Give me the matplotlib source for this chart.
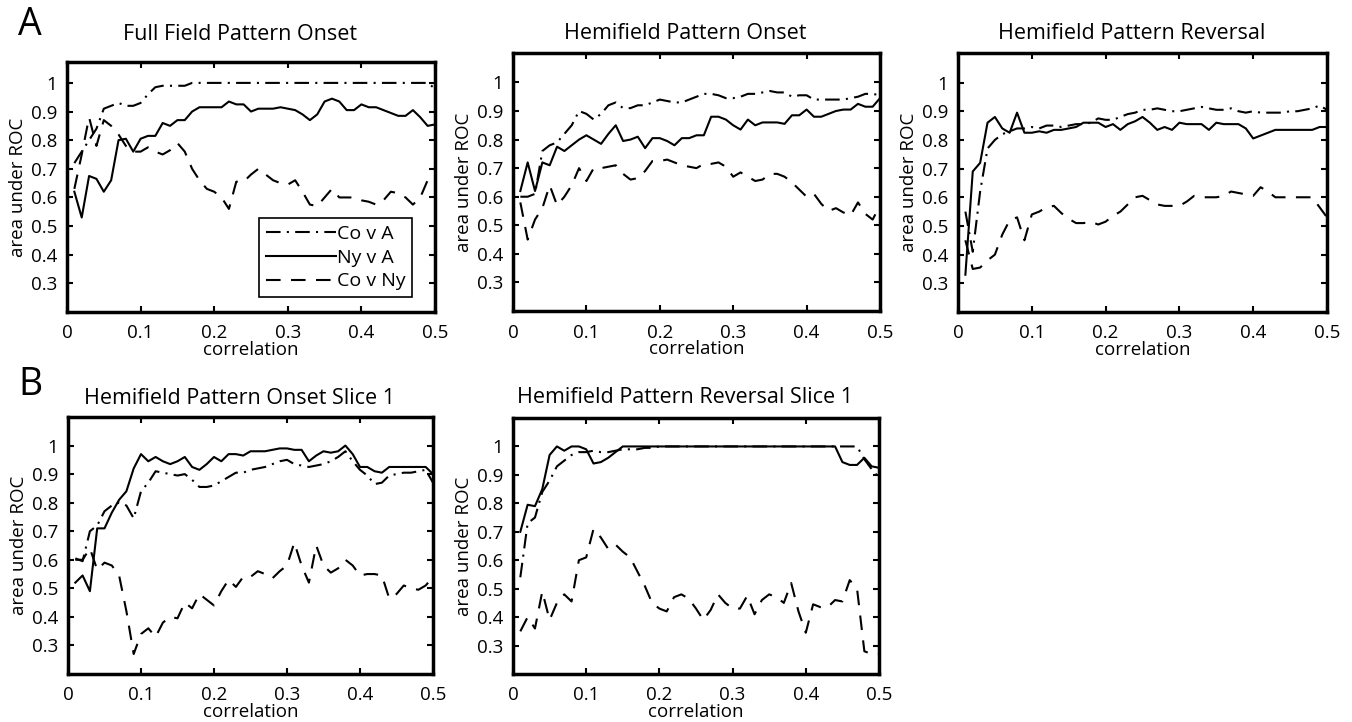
import matplotlib.pyplot as plt
import numpy as np

plt.rcParams['font.family'] = ['Open Sans', 'DejaVu Sans']

# correlation thresholds 0.01 .. 0.50
corr = np.round(np.arange(1, 51) * 0.01, 2)

# Full Field Pattern Onset
ff_onset_cova = [0.72, 0.76, 0.80, 0.84, 0.91, 0.92, 0.93, 0.92, 0.92, 0.93,
                 0.96, 0.985, 0.99, 0.99, 0.99, 0.99, 1.0, 1.0, 1.0, 1.0,
                 1.0, 1.0, 1.0, 1.0, 1.0, 1.0, 1.0, 1.0, 1.0, 1.0,
                 1.0, 1.0, 1.0, 1.0, 1.0, 1.0, 1.0, 1.0, 1.0, 1.0,
                 1.0, 1.0, 1.0, 1.0, 1.0, 1.0, 1.0, 1.0, 1.0, 0.98]
ff_onset_nyva = [0.62, 0.53, 0.675, 0.665, 0.62, 0.66, 0.80, 0.805, 0.76, 0.805,
                 0.815, 0.815, 0.86, 0.85, 0.87, 0.87, 0.90, 0.915, 0.915, 0.915,
                 0.915, 0.935, 0.925, 0.925, 0.90, 0.91, 0.91, 0.91, 0.915, 0.91,
                 0.905, 0.89, 0.87, 0.89, 0.935, 0.945, 0.935, 0.905, 0.905, 0.925,
                 0.915, 0.915, 0.905, 0.895, 0.885, 0.885, 0.905, 0.88, 0.85, 0.855]
ff_onset_covny = [0.63, 0.75, 0.88, 0.78, 0.87, 0.85, 0.82, 0.78, 0.76, 0.76,
                  0.775, 0.76, 0.75, 0.765, 0.79, 0.76, 0.70, 0.66, 0.63, 0.62,
                  0.60, 0.56, 0.655, 0.655, 0.68, 0.70, 0.68, 0.66, 0.65, 0.645,
                  0.66, 0.62, 0.575, 0.57, 0.60, 0.63, 0.60, 0.60, 0.60, 0.59,
                  0.585, 0.575, 0.59, 0.62, 0.615, 0.60, 0.575, 0.60, 0.66, 0.67]

# Hemifield Pattern Onset
hf_onset_cova = [0.60, 0.60, 0.61, 0.76, 0.78, 0.79, 0.82, 0.85, 0.90, 0.89,
                 0.87, 0.89, 0.92, 0.93, 0.91, 0.91, 0.92, 0.92, 0.93, 0.94,
                 0.935, 0.93, 0.93, 0.94, 0.95, 0.96, 0.96, 0.955, 0.945, 0.945,
                 0.95, 0.96, 0.96, 0.965, 0.97, 0.965, 0.965, 0.95, 0.955, 0.955,
                 0.94, 0.94, 0.94, 0.94, 0.94, 0.945, 0.95, 0.96, 0.96, 0.955]
hf_onset_nyva = [0.62, 0.72, 0.62, 0.72, 0.71, 0.775, 0.76, 0.78, 0.80, 0.815,
                 0.80, 0.785, 0.82, 0.85, 0.795, 0.80, 0.81, 0.77, 0.805, 0.805,
                 0.795, 0.78, 0.805, 0.805, 0.815, 0.815, 0.88, 0.88, 0.87, 0.85,
                 0.835, 0.87, 0.85, 0.86, 0.86, 0.86, 0.855, 0.885, 0.885, 0.905,
                 0.88, 0.88, 0.89, 0.90, 0.905, 0.905, 0.925, 0.915, 0.915, 0.945]
hf_onset_covny = [0.58, 0.45, 0.52, 0.56, 0.64, 0.57, 0.60, 0.64, 0.70, 0.655,
                  0.70, 0.70, 0.705, 0.71, 0.68, 0.66, 0.665, 0.69, 0.725, 0.725,
                  0.73, 0.72, 0.71, 0.705, 0.70, 0.715, 0.715, 0.72, 0.705, 0.67,
                  0.685, 0.67, 0.655, 0.66, 0.68, 0.68, 0.67, 0.65, 0.625, 0.60,
                  0.61, 0.575, 0.55, 0.56, 0.545, 0.535, 0.58, 0.54, 0.52, 0.57]

# Hemifield Pattern Reversal
hf_rev_cova = [0.55, 0.41, 0.62, 0.77, 0.80, 0.82, 0.83, 0.84, 0.84, 0.845,
               0.84, 0.85, 0.85, 0.845, 0.85, 0.855, 0.855, 0.86, 0.875, 0.87,
               0.87, 0.88, 0.89, 0.895, 0.905, 0.905, 0.91, 0.905, 0.90, 0.90,
               0.905, 0.91, 0.915, 0.91, 0.905, 0.905, 0.91, 0.90, 0.895, 0.90,
               0.895, 0.895, 0.895, 0.895, 0.90, 0.90, 0.905, 0.91, 0.92, 0.905]
hf_rev_nyva = [0.33, 0.69, 0.72, 0.86, 0.88, 0.84, 0.825, 0.895, 0.825, 0.825,
               0.83, 0.825, 0.835, 0.835, 0.84, 0.845, 0.86, 0.86, 0.86, 0.845,
               0.855, 0.835, 0.855, 0.865, 0.88, 0.86, 0.835, 0.845, 0.835, 0.86,
               0.855, 0.855, 0.855, 0.835, 0.86, 0.855, 0.855, 0.855, 0.84, 0.805,
               0.815, 0.825, 0.835, 0.835, 0.835, 0.835, 0.835, 0.835, 0.845, 0.845]
hf_rev_covny = [0.45, 0.35, 0.355, 0.38, 0.40, 0.47, 0.52, 0.53, 0.45, 0.54,
                0.55, 0.565, 0.57, 0.545, 0.525, 0.51, 0.51, 0.515, 0.505, 0.515,
                0.535, 0.55, 0.575, 0.60, 0.605, 0.59, 0.575, 0.57, 0.57, 0.57,
                0.585, 0.605, 0.60, 0.60, 0.60, 0.605, 0.62, 0.615, 0.61, 0.605,
                0.635, 0.62, 0.60, 0.60, 0.60, 0.60, 0.60, 0.60, 0.565, 0.53]

# Hemifield Pattern Onset Slice 1
s1_onset_cova = [0.605, 0.595, 0.70, 0.72, 0.77, 0.79, 0.80, 0.79, 0.745, 0.84,
                 0.87, 0.91, 0.905, 0.90, 0.895, 0.90, 0.88, 0.855, 0.855, 0.86,
                 0.875, 0.89, 0.905, 0.905, 0.915, 0.92, 0.925, 0.935, 0.945, 0.95,
                 0.935, 0.93, 0.925, 0.93, 0.935, 0.945, 0.96, 0.98, 0.945, 0.915,
                 0.895, 0.865, 0.87, 0.895, 0.90, 0.905, 0.905, 0.91, 0.915, 0.87]
s1_onset_nyva = [0.52, 0.545, 0.49, 0.71, 0.71, 0.765, 0.81, 0.84, 0.92, 0.97,
                 0.945, 0.96, 0.945, 0.935, 0.945, 0.96, 0.925, 0.915, 0.935, 0.96,
                 0.945, 0.97, 0.97, 0.965, 0.98, 0.98, 0.98, 0.985, 0.99, 0.99,
                 0.985, 0.985, 0.945, 0.965, 0.98, 0.975, 0.98, 1.0, 0.97, 0.925,
                 0.925, 0.91, 0.905, 0.925, 0.925, 0.925, 0.925, 0.925, 0.925, 0.90]
s1_onset_covny = [0.60, 0.60, 0.64, 0.565, 0.59, 0.58, 0.545, 0.42, 0.27, 0.34,
                  0.36, 0.33, 0.38, 0.40, 0.395, 0.45, 0.43, 0.48, 0.46, 0.44,
                  0.49, 0.53, 0.505, 0.54, 0.54, 0.56, 0.55, 0.535, 0.56, 0.58,
                  0.66, 0.58, 0.52, 0.65, 0.58, 0.555, 0.57, 0.60, 0.58, 0.545,
                  0.55, 0.55, 0.545, 0.465, 0.48, 0.51, 0.50, 0.495, 0.51, 0.54]

# Hemifield Pattern Reversal Slice 1
s1_rev_cova = [0.54, 0.73, 0.75, 0.84, 0.88, 0.93, 0.95, 0.97, 0.98, 0.98,
               0.985, 0.98, 0.98, 0.985, 0.99, 0.99, 0.99, 0.995, 0.995, 1.0,
               1.0, 1.0, 1.0, 1.0, 1.0, 1.0, 1.0, 1.0, 1.0, 1.0,
               1.0, 1.0, 1.0, 1.0, 1.0, 1.0, 1.0, 1.0, 1.0, 1.0,
               1.0, 1.0, 1.0, 1.0, 1.0, 1.0, 1.0, 0.955, 0.92, 0.89]
s1_rev_nyva = [0.70, 0.795, 0.79, 0.85, 0.97, 1.0, 0.985, 1.0, 1.0, 0.99,
               0.94, 0.945, 0.96, 0.98, 1.0, 1.0, 1.0, 1.0, 1.0, 1.0,
               1.0, 1.0, 1.0, 1.0, 1.0, 1.0, 1.0, 1.0, 1.0, 1.0,
               1.0, 1.0, 1.0, 1.0, 1.0, 1.0, 1.0, 1.0, 1.0, 1.0,
               1.0, 1.0, 1.0, 1.0, 0.945, 0.935, 0.935, 0.96, 0.93, 0.925]
s1_rev_covny = [0.35, 0.40, 0.36, 0.49, 0.39, 0.45, 0.48, 0.455, 0.60, 0.61,
                0.71, 0.68, 0.64, 0.655, 0.63, 0.61, 0.56, 0.51, 0.45, 0.43,
                0.42, 0.47, 0.48, 0.465, 0.43, 0.39, 0.425, 0.48, 0.45, 0.43,
                0.43, 0.475, 0.41, 0.46, 0.48, 0.47, 0.45, 0.52, 0.42, 0.345,
                0.445, 0.435, 0.435, 0.46, 0.455, 0.53, 0.50, 0.28, 0.27, 0.27]

titles = ['Full Field Pattern Onset', 'Hemifield Pattern Onset', 'Hemifield Pattern Reversal',
          'Hemifield Pattern Onset Slice 1', 'Hemifield Pattern Reversal Slice 1']
panels = [(ff_onset_cova, ff_onset_nyva, ff_onset_covny),
          (hf_onset_cova, hf_onset_nyva, hf_onset_covny),
          (hf_rev_cova, hf_rev_nyva, hf_rev_covny),
          (s1_onset_cova, s1_onset_nyva, s1_onset_covny),
          (s1_rev_cova, s1_rev_nyva, s1_rev_covny)]
labels = ['Co v A', 'Ny v A', 'Co v Ny']

W, H = 1352, 722
# axes boxes in pixels: left, top, right, bottom
boxes = [(67, 62, 435, 312), (513, 53, 880, 311), (958, 53, 1327, 312),
         (68, 417, 433, 674), (513, 418, 879, 674)]
ytops = [1.073, 1.103, 1.103, 1.10, 1.10]
title_pads = [16, 10, 10, 9, 11]

fig = plt.figure(figsize=(W / 100, H / 100), dpi=100)

for i in range(5):
    l, t, r, b = boxes[i]
    ax = fig.add_axes([l / W, 1 - b / H, (r - l) / W, (b - t) / H])
    cova, nyva, covny = panels[i]
    ax.plot(corr, cova, color='k', linestyle='-.', linewidth=1.5, dashes=(7, 3, 1, 3), label=labels[0])
    ax.plot(corr, nyva, color='k', linestyle='-', linewidth=1.5, label=labels[1])
    ax.plot(corr, covny, color='k', linestyle='--', linewidth=1.5, dashes=(7, 5), label=labels[2])
    ax.set_xlim(0, 0.5)
    ax.set_ylim(0.2, ytops[i])
    ax.set_xticks([0, 0.1, 0.2, 0.3, 0.4, 0.5])
    ax.set_xticklabels(['0', '0.1', '0.2', '0.3', '0.4', '0.5'])
    ax.set_yticks([0.3, 0.4, 0.5, 0.6, 0.7, 0.8, 0.9, 1.0])
    ax.set_yticklabels(['0.3', '0.4', '0.5', '0.6', '0.7', '0.8', '0.9', '1'])
    ax.tick_params(direction='in', top=True, right=True, length=4, width=1.5,
                   labelsize=13.5, pad=7)
    ax.tick_params(axis='x', pad=9)
    for s in ax.spines.values():
        s.set_linewidth(2.5)
    ax.set_title(titles[i], fontsize=15.5, pad=title_pads[i], x=0.47)
    ax.set_xlabel('correlation', fontsize=13.5, labelpad=-1)
    ax.set_ylabel('area under ROC', fontsize=13.5, labelpad=3)
    if i == 0:
        leg = ax.legend(loc='lower right', bbox_to_anchor=(0.965, 0.02), fancybox=False,
                        framealpha=1, edgecolor='k', fontsize=14, handlelength=3.6,
                        handletextpad=0.05, borderpad=0.35, labelspacing=0.3)
        leg.get_frame().set_linewidth(1.2)

fig.text(18 / W, 1 - 25 / H, 'A', fontsize=27, va='center', ha='left')
fig.text(18 / W, 1 - 385 / H, 'B', fontsize=27, va='center', ha='left')

fig.savefig('out.png', dpi=100)
